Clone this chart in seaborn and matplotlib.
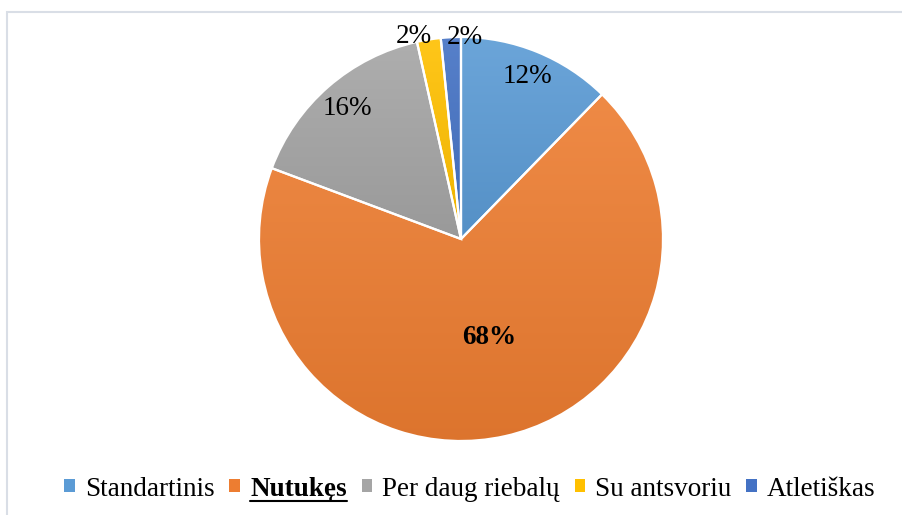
import numpy as np
import matplotlib
matplotlib.use("Agg")
import matplotlib.pyplot as plt
import matplotlib.colors as mcolors
from matplotlib.patches import Patch, Rectangle
from matplotlib.lines import Line2D
import seaborn as sns

# ---- data ----
categories = ["Standartinis", "Nutukęs", "Per daug riebalų", "Su antsvoriu", "Atletiškas"]
values = [12.3, 68.4, 15.8, 1.9, 1.6]
labels_pct = ["12%", "68%", "16%", "2%", "2%"]
colors = ["#5B9BD5", "#ED7D31", "#A5A5A5", "#FFC000", "#4472C4"]
label_dist = [0.866, 0.505, 0.856, 1.03, 1.0]
label_angle_shift = [0.0, 3.5, 0.0, 3.8, -4.0]
label_bold = [False, True, False, False, False]

sns.set_theme(style="white")
plt.rcParams["font.family"] = ["Liberation Serif", "DejaVu Serif"]
FS = 19.5

W, H = 902, 515
fig = plt.figure(figsize=(W / 100, H / 100), dpi=100)
fig.patch.set_facecolor("white")

cx, cy, r = 461, 515 - 239, 202
ax = fig.add_axes([(cx - r) / W, (cy - r) / H, 2 * r / W, 2 * r / H])

wedges, _ = ax.pie(values, colors=colors, startangle=90, counterclock=False,
                   radius=1.0, wedgeprops=dict(edgecolor="white", linewidth=1.6))

def shade(c, f):
    rgb = np.array(mcolors.to_rgb(c))
    if f > 0:
        return rgb + (1 - rgb) * f
    return rgb * (1 + f)

for w, c in zip(wedges, colors):
    ext = w.get_path().get_extents()
    top = shade(c, 0.10)
    bot = shade(c, -0.07)
    n = 256
    t = np.linspace(0, 1, n)[:, None]
    grad = top[None, :] * (1 - t) + bot[None, :] * t
    img = np.repeat(grad[:, None, :], 2, axis=1)
    im = ax.imshow(img, extent=[ext.x0, ext.x1, ext.y0, ext.y1], origin="upper",
                   aspect="auto", zorder=0.5, interpolation="bilinear")
    im.set_clip_path(w)
    w.set_facecolor("none")
    w.set_zorder(1)

for w, lab, d, s, b in zip(wedges, labels_pct, label_dist, label_angle_shift, label_bold):
    ang = np.deg2rad((w.theta1 + w.theta2) / 2 + s)
    ax.text(d * np.cos(ang), d * np.sin(ang), lab, ha="center", va="center",
            fontsize=FS, color="#000000", fontweight="bold" if b else "normal", zorder=3)

ax.set_xlim(-1, 1)
ax.set_ylim(-1, 1)
ax.set_aspect("equal")
ax.axis("off")

# frame around the chart area
fig.patches.append(Rectangle((7.5 / W, -0.1), 1.2, 1 - 11.5 / H + 0.1,
                             transform=fig.transFigure, fill=False,
                             edgecolor="#D9DEE6", linewidth=1.5))

handles = [Patch(facecolor=c, edgecolor="none") for c in colors]
leg = fig.legend(handles, categories, loc="center", bbox_to_anchor=(470 / W, 1 - 489 / H),
                 ncol=5, frameon=False, prop=dict(family="Liberation Serif", size=FS),
                 handlelength=0.38, handleheight=0.38,
                 handletextpad=0.38, columnspacing=0.55, borderaxespad=0, borderpad=0)
for t in leg.get_texts():
    t.set_color("#000000")
leg.get_texts()[1].set_fontweight("bold")

fig.canvas.draw()
tb = leg.get_texts()[1].get_window_extent()
uy = (tb.y0 + 1.0) / H
fig.add_artist(Line2D([tb.x0 / W, tb.x1 / W], [uy, uy], transform=fig.transFigure,
                      color="black", linewidth=1.5))

fig.savefig("out.png", dpi=100, facecolor="white")
